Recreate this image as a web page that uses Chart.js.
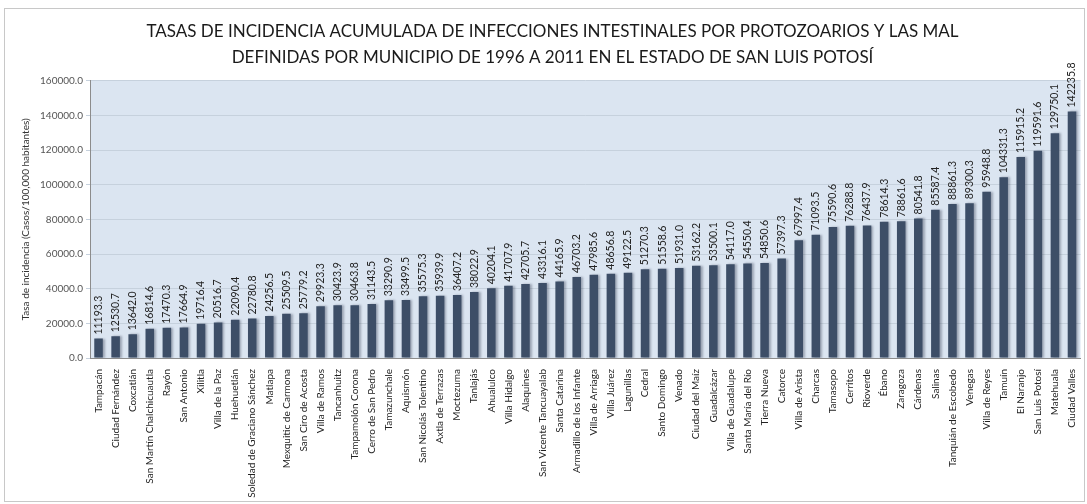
<!DOCTYPE html>
<html>
<head>
<meta charset="utf-8">
<script src="https://cdn.jsdelivr.net/npm/chart.js@4"></script>
<style>
	html, body { margin: 0; padding: 0; background: #ffffff; }
	#wrap { position: absolute; left: 4px; top: 8px; width: 1081px; height: 494px; border: 1px solid #c8c8c8; box-sizing: border-box; }
	#box { position: absolute; left: 0; top: 0; width: 1087px; height: 504px; }
</style>
</head>
<body>
<div id="wrap"></div>
<div id="box"><canvas id="incChart"></canvas></div>
<script>
const municipios = [
	'Tampacán', 'Ciudad Fernández', 'Coxcatlán', 'San Martín Chalchicuautla', 'Rayón',
	'San Antonio', 'Xilitla', 'Villa de la Paz', 'Huehuetlán', 'Soledad de Graciano Sánchez',
	'Matlapa', 'Mexquitic de Carmona', 'San Ciro de Acosta', 'Villa de Ramos', 'Tancanhuitz',
	'Tampamolón Corona', 'Cerro de San Pedro', 'Tamazunchale', 'Aquismón', 'San Nicolás Tolentino',
	'Axtla de Terrazas', 'Moctezuma', 'Tanlajás', 'Ahualulco', 'Villa Hidalgo',
	'Alaquines', 'San Vicente Tancuayalab', 'Santa Catarina', 'Armadillo de los Infante', 'Villa de Arriaga',
	'Villa Juárez', 'Lagunillas', 'Cedral', 'Santo Domingo', 'Venado',
	'Ciudad del Maíz', 'Guadalcázar', 'Villa de Guadalupe', 'Santa María del Río', 'Tierra Nueva',
	'Catorce', 'Villa de Arista', 'Charcas', 'Tamasopo', 'Cerritos',
	'Rioverde', 'Ébano', 'Zaragoza', 'Cárdenas', 'Salinas',
	'Tanquián de Escobedo', 'Venegas', 'Villa de Reyes', 'Tamuín', 'El Naranjo',
	'San Luis Potosí', 'Matehuala', 'Ciudad Valles'
];

const tasas = [
	11193.3, 12530.7, 13642.0, 16814.6, 17470.3,
	17664.9, 19716.4, 20516.7, 22090.4, 22780.8,
	24256.5, 25509.5, 25779.2, 29923.3, 30423.9,
	30463.8, 31143.5, 33290.9, 33499.5, 35575.3,
	35939.9, 36407.2, 38022.9, 40204.1, 41707.9,
	42705.7, 43316.1, 44165.9, 46703.2, 47985.6,
	48656.8, 49122.5, 51270.3, 51558.6, 51931.0,
	53162.2, 53500.1, 54117.0, 54550.4, 54850.6,
	57397.3, 67997.4, 71093.5, 75590.6, 76288.8,
	76437.9, 78614.3, 78861.6, 80541.8, 85587.4,
	88861.3, 89300.3, 95948.8, 104331.3, 115915.2,
	119591.6, 129750.1, 142235.8
];

const yTicks = [0, 20000, 40000, 60000, 80000, 100000, 120000, 140000, 160000];

const tituloLineas = [
	'TASAS DE INCIDENCIA ACUMULADA DE INFECCIONES INTESTINALES POR PROTOZOARIOS Y LAS MAL',
	'DEFINIDAS POR MUNICIPIO DE 1996 A 2011 EN EL ESTADO DE SAN LUIS POTOSÍ'
];

const fontFam = "Lato, 'Open Sans', sans-serif";

// fondo azul claro del área de trazado
const plotBg = {
	id: 'plotBg',
	beforeDraw(chart) {
		const a = chart.chartArea;
		const ctx = chart.ctx;
		ctx.save();
		ctx.fillStyle = '#dbe5f1';
		ctx.fillRect(a.left, a.top, a.right - a.left, a.bottom - a.top);
		ctx.restore();
	}
};

// sombra suave a la derecha de las barras
const barShadow = {
	id: 'barShadow',
	beforeDatasetsDraw(chart) {
		const ctx = chart.ctx;
		ctx.save();
		ctx.shadowColor = 'rgba(40, 50, 70, 0.35)';
		ctx.shadowOffsetX = 2;
		ctx.shadowOffsetY = 0;
		ctx.shadowBlur = 2;
	},
	afterDatasetsDraw(chart) {
		chart.ctx.restore();
	}
};

// etiquetas de valor giradas sobre cada barra
const valueLabels = {
	id: 'valueLabels',
	afterDatasetsDraw(chart) {
		const ctx = chart.ctx;
		const meta = chart.getDatasetMeta(0);
		ctx.save();
		ctx.font = '10.5px ' + fontFam;
		ctx.fillStyle = '#222222';
		ctx.textAlign = 'left';
		ctx.textBaseline = 'middle';
		meta.data.forEach((bar, i) => {
			ctx.save();
			ctx.translate(bar.x, bar.y - 4);
			ctx.rotate(-Math.PI / 2);
			ctx.fillText(tasas[i].toFixed(1), 0, 0);
			ctx.restore();
		});
		ctx.restore();
	}
};

const canvas = document.getElementById('incChart');
canvas.width = 1087;
canvas.height = 504;

let chart = new Chart(canvas.getContext('2d'), {
	type: 'bar',
	data: {
		labels: municipios,
		datasets: [{
			label: 'Tasa',
			data: tasas,
			backgroundColor: '#3d4e67',
			barPercentage: 0.5,
			categoryPercentage: 1.0
		}]
	},
	options: {
		responsive: false,
		animation: false,
		layout: {
			padding: { left: 20, right: 2, top: 0, bottom: 4 }
		},
		scales: {
			x: {
				grid: { display: false },
				border: { color: '#8c8c8c' },
				afterFit: (axis) => { axis.height = 142; },
				ticks: {
					autoSkip: false,
					minRotation: 90,
					maxRotation: 90,
					color: '#222222',
					font: { family: fontFam, size: 10 },
					padding: 3
				}
			},
			y: {
				min: 0,
				max: 160000,
				afterBuildTicks: (axis) => {
					axis.ticks = yTicks.map(v => ({ value: v }));
				},
				afterFit: (axis) => { axis.width = 70; },
				grid: { color: '#c6d1dd', drawTicks: true, tickLength: 4 },
				border: { color: '#8c8c8c' },
				ticks: {
					color: '#555555',
					font: { family: fontFam, size: 10 },
					callback: (v) => Number(v).toFixed(1)
				},
				title: {
					display: true,
					text: 'Tasa de incidencia (Casos/100,000 habitantes)',
					color: '#333333',
					font: { family: fontFam, size: 10 },
					padding: { top: 0, bottom: 2 }
				}
			}
		},
		plugins: {
			legend: { display: false },
			tooltip: { enabled: false },
			title: {
				display: true,
				text: tituloLineas,
				color: '#1a1a1a',
				font: { family: fontFam, size: 17, weight: 'normal', lineHeight: 1.55 },
				padding: { top: 18, bottom: 10 }
			}
		}
	},
	plugins: [plotBg, barShadow, valueLabels]
});
</script>
</body>
</html>
